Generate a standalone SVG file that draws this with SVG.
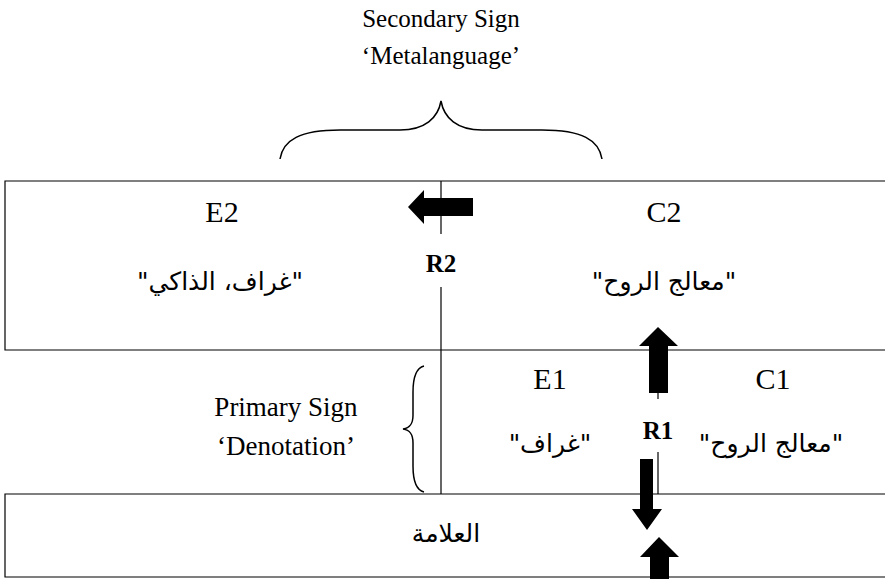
<svg xmlns="http://www.w3.org/2000/svg" width="885" height="579" viewBox="0 0 885 579">
<style>
.ln{stroke:#000;stroke-width:1.2;fill:none}
.br{stroke:#000;stroke-width:1.5;fill:none}
.ar{fill:#000}
.t{font-family:'Liberation Serif','Times New Roman',serif;fill:#000;text-anchor:middle}
.lbl{font-size:30px}
.cap{font-size:25px}
.pcap{font-size:27px}
.rb{font-size:25px;font-weight:bold}
.ara{font-family:'DejaVu Sans',sans-serif;font-size:25px;fill:#000;text-anchor:middle}
</style>
<rect width="885" height="579" fill="#fff"/>
<g id="secondary-caption">
<text class="t cap" x="441" y="27">Secondary Sign</text>
<text class="t cap" x="441" y="64">‘Metalanguage’</text>
<path class="br" d="M280,159 C283,140 300,130 340,130 L400,130 C425,130 438,118 441,101 C444,118 457,130 482,130 L542,130 C582,130 599,140 602,159"/>
</g>
<g id="secondary-box">
<path class="ln" d="M885,181 L5,181 L5,350 L885,350"/>
<line class="ln" x1="441" y1="181" x2="441" y2="234"/>
<line class="ln" x1="441" y1="287" x2="441" y2="350"/>
</g>
<g id="E2">
<text class="t lbl" x="222" y="222">E2</text>
<text class="ara" x="220" y="290" direction="rtl">"غراف، الذاكي"</text>
</g>
<g id="C2">
<text class="t lbl" x="664" y="222">C2</text>
<text class="ara" x="664" y="290" direction="rtl">"معالج الروح"</text>
</g>
<g id="R2"><text class="t rb" x="441" y="272">R2</text></g>
<g id="primary-caption">
<text class="t pcap" x="286" y="416">Primary Sign</text>
<text class="t pcap" x="286" y="455">‘Denotation’</text>
<path class="br" d="M424,366 C416,368 413,378 413,392 L413,415 C413,424 410,428 403,429 C410,430 413,434 413,443 L413,466 C413,480 416,490 424,492"/>
</g>
<g id="primary-box">
<line class="ln" x1="441" y1="350" x2="441" y2="494"/>
<line class="ln" x1="658" y1="393" x2="658" y2="399"/>
<line class="ln" x1="658" y1="452" x2="658" y2="494"/>
</g>
<g id="E1">
<text class="t lbl" x="550" y="389">E1</text>
<text class="ara" x="550" y="452" direction="rtl">"غراف"</text>
</g>
<g id="C1">
<text class="t lbl" x="773" y="389">C1</text>
<text class="ara" x="771" y="452" direction="rtl">"معالج الروح"</text>
</g>
<g id="R1"><text class="t rb" x="658" y="439">R1</text></g>
<g id="sign-box">
<path class="ln" d="M885,494 L5,494 L5,577 L885,577"/>
<text class="ara" x="446" y="542" direction="rtl">العلامة</text>
</g>
<g id="connectors">
<polygon class="ar" points="408,207 424,190 424,198 473,198 473,216 424,216 424,224"/>
<polygon class="ar" points="658,327 678,346 668,346 668,393 649,393 649,346 639,346"/>
<polygon class="ar" points="647,530 632,509 640,509 640,459 653,459 653,509 662,509"/>
<polygon class="ar" points="659,537 679,557 669,557 669,579 650,579 650,557 640,557"/>
</g>
</svg>
